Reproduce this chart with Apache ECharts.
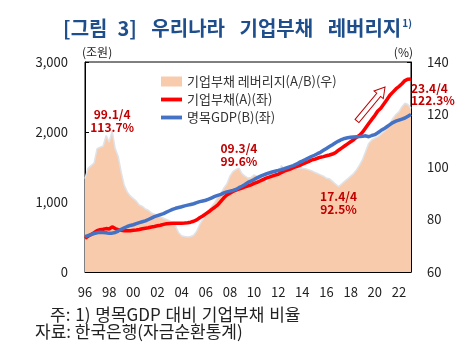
<!DOCTYPE html>
<html><head><meta charset="utf-8">
<script src="https://cdn.jsdelivr.net/npm/echarts@6/dist/echarts.min.js"></script>
<style>html,body{margin:0;padding:0;background:#fff}#c{width:475px;height:364px}</style>
</head><body><div id="c"></div>
<script>
// Quarters 1996Q4 .. 2023Q4
const startYear = 1996, startQ = 4, nQuarters = 109;
const tickLabels = ['96','98','00','02','04','06','08','10','12','14','16','18','20','22'];
const leverage = [
 95.5, 99.5,100.5,101.5,107,107.5,108,112,109.5,113.7,107,104,98,93,90.5,89,
 88,87,85.5,85,84,83.5,82.5,82,81.5,81,80.5,80,79.5,78.5,77.5,75,
 73.8,73.5,73.3,73.5,74,75.5,78,80,81.5,83.5,85,86.5,88.5,90,92,93.5,
 96.5,98.2,99,99.6,97.5,96.5,95.8,96,97,96.5,96,95.5,94.4,96,97.6,97,
 97,100.5,99.5,99.7,99.7,99.5,99.6,99.6,99.5,99.3,99,98.6,98,97.5,97,96.5,
 95.7,95.5,94.5,93.5,92.5,93.5,94.5,95.5,96.5,97.5,99,100.8,103,106,109,110.3,
 111,111.5,112.5,113.5,114.5,116.5,118.5,120,121,123,124.3,123.8,122.3
];
const debt = [
 481,510,535,560,590,605,610,620,615,645,620,605,595,590,588,590,
 595,600,608,618,625,632,642,650,660,668,680,688,693,695,695,695,
 697,700,705,712,725,745,775,800,830,860,895,925,960,1010,1060,1100,
 1125,1150,1170,1185,1200,1215,1230,1245,1265,1280,1300,1320,1340,1355,1370,1385,
 1395,1420,1440,1455,1470,1490,1505,1520,1540,1560,1578,1598,1610,1625,1640,1648,
 1660,1672,1685,1705,1740,1770,1800,1830,1860,1890,1925,1955,2000,2060,2120,2180,
 2235,2300,2340,2400,2460,2525,2570,2615,2650,2690,2735,2755,2757
];
const gdp = [
 505,520,535,550,560,567,565,560,552,555,565,585,610,630,650,665,
 675,690,705,718,730,750,770,790,805,820,835,855,875,895,910,922,
 933,945,955,965,975,990,1005,1015,1025,1040,1060,1080,1095,1110,1130,1145,
 1155,1165,1180,1205,1225,1250,1280,1300,1320,1345,1365,1385,1400,1415,1428,1440,
 1450,1462,1475,1490,1505,1520,1540,1565,1585,1605,1628,1650,1668,1690,1710,1738,
 1765,1792,1818,1845,1870,1892,1908,1918,1925,1930,1933,1935,1940,1945,1932,1950,
 1962,1990,2020,2045,2075,2105,2135,2155,2170,2185,2200,2225,2252
];
const annotations = [
  {idx: 9,  val: 113.7, text: '99.1/4\n113.7%'},
  {idx: 51, val: 99.6,  text: '09.3/4\n99.6%'},
  {idx: 84, val: 92.5,  text: '17.4/4\n92.5%'}
];
const lastNote = '23.4/4\n122.3%';

const quarters = [];
for (let i = 0; i < nQuarters; i++) {
  const t = (startQ - 1) + i;
  const y = startYear + Math.floor(t / 4), q = (t % 4) + 1;
  quarters.push(String(y).slice(2) + '.' + q + '/4');
}

const FONT = '"Noto Sans CJK KR", "Noto Sans", sans-serif';
const names = ['기업부채 레버리지(A/B)(우)', '기업부채(A)(좌)', '명목GDP(B)(좌)'];
const annoRed = '#c00000';
const chart = echarts.init(document.getElementById('c'));
chart.setOption({
  animation: false,
  textStyle: {fontFamily: FONT},
  title: {
    text: '{t|[그림\u20023]\u2002 우리나라\u2002 기업부채\u2002 레버리지}{s|1)}',
    left: 'center', top: 13,
    textStyle: {rich: {
      t: {fontFamily: FONT, fontSize: 20, fontWeight: 'bold', color: '#1f4e8c'},
      s: {fontFamily: FONT, fontSize: 10, fontWeight: 'bold', color: '#1f4e8c', verticalAlign: 'top', padding: [0,0,10,1]}
    }}
  },
  grid: {left: 85, right: 64, top: 62, bottom: 92, show: true, borderColor: '#000', borderWidth: 1},
  legend: {
    orient: 'vertical', left: 156, top: 70, itemWidth: 21, itemHeight: 10, itemGap: 5,
    textStyle: {fontFamily: FONT, fontSize: 13, color: '#333'},
    data: [
      {name: names[0], icon: 'rect', itemStyle: {color: '#f8cbad'}},
      {name: names[1], icon: 'path://M0,0 L22,0 L22,4 L0,4 Z', itemStyle: {color: '#ff0000'}},
      {name: names[2], icon: 'path://M0,0 L22,0 L22,4 L0,4 Z', itemStyle: {color: '#4472c4'}}
    ]
  },
  xAxis: {
    type: 'category', data: quarters, boundaryGap: false,
    axisLine: {lineStyle: {color: '#000'}},
    axisTick: {inside: true, interval: 7, length: 5, lineStyle: {color: '#000'}},
    axisLabel: {interval: 7, margin: 14, fontSize: 13, color: '#222', fontFamily: FONT,
      formatter: (v, i) => tickLabels[Math.round(i / 8)] || ''}
  },
  yAxis: [
    {type: 'value', min: 0, max: 3000, interval: 1000, position: 'left',
     name: '(조원)', nameLocation: 'end', nameGap: 4,
     nameTextStyle: {fontSize: 12, color: '#222', align: 'left', padding: [0,0,0,-3], fontFamily: FONT},
     axisLine: {show: true, lineStyle: {color: '#000'}},
     axisTick: {show: true, inside: true, length: 4, lineStyle: {color: '#000'}},
     splitLine: {show: false},
     axisLabel: {margin: 17, fontSize: 13, color: '#222', fontFamily: FONT,
       formatter: v => v.toLocaleString('en-US')}},
    {type: 'value', min: 60, max: 140, interval: 20, position: 'right',
     name: '(%)', nameLocation: 'end', nameGap: 4,
     nameTextStyle: {fontSize: 12, color: '#222', align: 'right', padding: [0,-2,0,0], fontFamily: FONT},
     axisLine: {show: true, lineStyle: {color: '#000'}},
     axisTick: {show: true, inside: true, length: 4, lineStyle: {color: '#000'}},
     splitLine: {show: false},
     axisLabel: {margin: 16, fontSize: 13, color: '#222', fontFamily: FONT}}
  ],
  series: [
    {name: names[0], type: 'line', yAxisIndex: 1, data: leverage, symbol: 'none',
     lineStyle: {color: '#dfe3e8', width: 1.5},
     areaStyle: {color: '#f8cbad', opacity: 1, origin: 'start'},
     itemStyle: {color: '#f8cbad'},
     z: 1,
     markPoint: {
       symbol: 'circle', symbolSize: 0, silent: true,
       data: annotations.map((a, k) => ({
         coord: [a.idx, a.val],
         label: {show: true, formatter: a.text, color: annoRed, fontWeight: 'bold', fontSize: 12,
           lineHeight: 13, fontFamily: FONT, align: 'center',
           position: k === 2 ? 'bottom' : 'top', distance: k === 2 ? 3 : (k === 0 ? -3 : 0)}
       }))
     }},
    {name: names[1], type: 'line', yAxisIndex: 0, data: debt, symbol: 'none',
     lineStyle: {color: '#ff0000', width: 3.5}, itemStyle: {color: '#ff0000'}, z: 3,
     markPoint: {
       symbol: 'circle', symbolSize: 0, silent: true,
       data: [{coord: [nQuarters - 1, debt[debt.length - 1]],
         label: {show: true, formatter: lastNote, color: annoRed, fontWeight: 'bold', fontSize: 12,
           lineHeight: 12, fontFamily: FONT, position: 'right', align: 'left', offset: [-2, 15], distance: 2}}]
     }},
    {name: names[2], type: 'line', yAxisIndex: 0, data: gdp, symbol: 'none',
     lineStyle: {color: '#4472c4', width: 3.5}, itemStyle: {color: '#4472c4'}, z: 4}
  ],
  graphic: [
    {type: 'polygon', x: 357, y: 121, rotation: 0.88, z: 10,
     shape: {points: [[0,-2.5],[34,-2.5],[34,-6],[44,0],[34,6],[34,2.5],[0,2.5]]},
     style: {fill: '#fff', stroke: annoRed, lineWidth: 1}},
    {type: 'text', left: 50, top: 306, z: 10,
     style: {text: '주:\u200A 1)\u200A 명목GDP\u200A 대비\u200A 기업부채\u200A 비율', font: '17px ' + FONT, fill: '#222'}},
    {type: 'text', left: 35, top: 323, z: 10,
     style: {text: '자료: 한국은행(자금순환통계)', font: '17px ' + FONT, fill: '#222'}}
  ]
});
</script></body></html>
